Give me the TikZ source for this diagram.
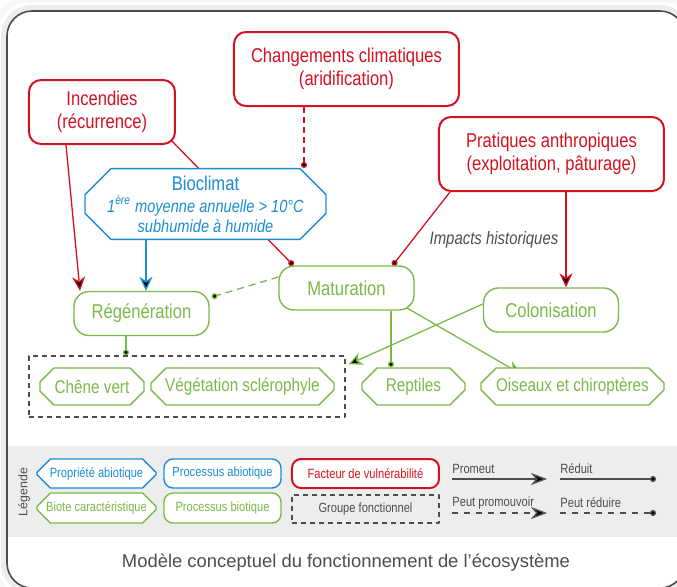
\documentclass[tikz,border=0pt]{standalone}
\usepackage{fontspec}
\setmainfont[FakeStretch=0.83]{Liberation Sans}
\newfontfamily\plainsans{Liberation Sans}
\usetikzlibrary{arrows.meta, shapes.misc, calc, backgrounds}
\definecolor{redv}{RGB}{213,18,34}
\definecolor{bluea}{RGB}{28,142,212}
\definecolor{greenb}{RGB}{122,186,72}
\definecolor{grayt}{RGB}{77,77,77}
\definecolor{bandgray}{RGB}{237,237,237}

\begin{document}
\begin{tikzpicture}[x=0.5pt,y=-0.5pt,line join=round,
	>={Stealth[length=7pt,width=6.5pt,inset=2.2pt]},
	endot/.tip={Circle[length=3pt]}]
		\tikzstyle{factor}=[draw=redv,line width=1pt,rounded corners=6,fill=white,text=redv,align=center,font=\fontsize{10}{11.5}\selectfont]
		\tikzstyle{property}=[chamfered rectangle,chamfered rectangle xsep=9.5pt,draw=bluea,line width=0.7pt,fill=white,text=bluea,align=center,inner sep=0pt]
		\tikzstyle{process}=[draw=greenb,line width=0.7pt,rounded corners=7.5,fill=white,text=greenb,font=\fontsize{10}{11.5}\selectfont,minimum width=67.5pt,minimum height=22pt]
		\tikzstyle{biota}=[chamfered rectangle,chamfered rectangle xsep=4pt,draw=greenb,line width=0.7pt,fill=white,text=greenb,font=\fontsize{9.2}{11}\selectfont,inner sep=0pt,minimum height=18.5pt]
		\tikzstyle{groupbox}=[draw=grayt,line width=0.6pt,dash pattern=on 2.5pt off 2pt]
		\tikzstyle{legfont}=[font=\fontsize{6.7}{8}\selectfont]
		\tikzstyle{leglab}=[legfont,text=grayt,inner sep=0pt,anchor=west]
		\tikzstyle{legline}=[draw=grayt,line width=0.7pt]
		\tikzstyle{link}=[line width=0.65pt]
		
		\useasboundingbox (0,0) rectangle (677,586);
		\begin{pgfonlayer}{background}
			\fill[white] (0,0) rectangle (677,586);
			\draw[black!3,line width=3pt,rounded corners=17] (-5,-1) rectangle (697,600);
			\draw[black!7,line width=3pt,rounded corners=14] (4,8) rectangle (688,591);
		\end{pgfonlayer}
		\fill[bandgray] (7,446) rectangle (685,537);
		\draw[grayt,line width=0.8pt,rounded corners=12.5] (7,11) rectangle (685,588);
		
		\node[factor,minimum width=112.5pt,minimum height=37pt] (chg) at (346.5,69) {Changements climatiques\\(aridification)};
		\node[factor,minimum width=73pt,minimum height=32pt] (inc) at (102,112) {Incendies\\(récurrence)};
		\node[factor,minimum width=112.5pt,minimum height=37pt] (pra) at (551.5,154) {Pratiques anthropiques\\(exploitation, pâturage)};
		\node[property,minimum width=120.5pt,minimum height=35pt,font=\fontsize{8.8}{10}\selectfont\itshape] (bio) at (205.5,204)
			{{\upshape\fontsize{10}{12}\selectfont Bioclimat}\\[1pt]1\textsuperscript{ère} moyenne annuelle > 10°C\\subhumide à humide};
		
		\node[process] (mat) at (346.5,288) {Maturation};
		\node[process] (reg) at (141.5,313.5) {Régénération};
		\node[process] (col) at (551,310) {Colonisation};
		\node[font=\fontsize{9}{10}\selectfont\itshape,text=grayt] (imp) at (494,240) {Impacts historiques};
		
		\node[groupbox,minimum width=158pt,minimum height=30.5pt] (grp) at (187,386.5) {};
		\node[biota,minimum width=52pt] (chene) at (92,386.5) {Chêne vert};
		\node[biota,minimum width=91.5pt] (veg) at (242.5,386.5) {Végétation sclérophyle};
		\node[biota,minimum width=51.5pt] (rep) at (413.5,386.5) {Reptiles};
		\node[biota,minimum width=91.5pt] (ois) at (572.5,386.5) {Oiseaux et chiroptères};
		
		\begin{pgfonlayer}{background}
			\path[draw=redv,link]
			($(chg.south)+(-42.5,0)$) edge[dash pattern=on 3pt off 2pt,-endot] ($(bio.north)+(98.5,0)$)
			($(inc.south east)+(-8,-8)$) edge[-endot] ($(mat.north west)+(15,0)$)
			($(inc.south)+(-36,0)$) edge[->] ($(reg.north)+(-61.5,0)$)
			($(pra.south west)+(12,0)$) edge[-endot] ($(mat.north east)+(-22,0)$)
			($(pra.south)+(14.5,0)$) edge[->] ($(col.north)+(15,0)$);
			
			\path[draw=bluea,link]
			($(bio.south)+(-59.5,0)$) edge[->] ($(reg.north)+(4.5,0)$);
			
			\path[draw=greenb,link]
			($(mat.west)+(0,-11)$) edge[dash pattern=on 3.5pt off 2.5pt,-endot] ($(reg.east)+(2,-16.5)$)
			($(reg.south)+(-15.5,0)$) edge[-endot] ($(grp.north)+(-61,0)$)
			($(mat.south)+(44.5,0)$) edge[-endot] ($(rep.north)+(-22.5,0)$)
			($(mat.south east)+(-10,-4)$) edge[->] ($(ois.north west)+(33,-1)$)
			($(col.west)+(0,-6)$) edge[->] ($(grp.north east)+(3,9)$);
		\end{pgfonlayer}
		
		\node[rotate=90,font=\plainsans\fontsize{6.2}{7}\selectfont,text=grayt] (leg) at (24,492) {Légende};
		\node[property,legfont,chamfered rectangle xsep=4pt,minimum width=59.5pt,minimum height=14.5pt] (lpa) at (96.5,473.5) {Propriété abiotique};
		\node[process,legfont,draw=bluea,text=bluea,rounded corners=4.5,minimum width=58.5pt,minimum height=14.5pt] (lpr) at (222.5,473.5) {Processus abiotique};
		\node[factor,legfont,rounded corners=4.5,minimum width=73.5pt,minimum height=14.5pt] (lfa) at (365.5,473.5) {Facteur de vulnérabilité};
		\node[biota,legfont,minimum width=59.5pt,minimum height=15pt] (lbi) at (96.5,508) {Biote caractéristique};
		\node[process,legfont,rounded corners=4.5,minimum width=58.5pt,minimum height=15pt] (lpb) at (222.5,508) {Processus biotique};
		\node[groupbox,legfont,text=grayt,minimum width=73.5pt,minimum height=14pt] (lgr) at (365.5,509) {Groupe fonctionnel};
		
		\node[leglab] (lprom) at (452,469) {Promeut};
		\node[leglab] (lred) at (560,469) {Réduit};
		\node[leglab] (lpprom) at (452,503) {Peut promouvoir};
		\node[leglab] (lpred) at (560,503) {Peut réduire};
		\coordinate (a1) at (452,479);
		\coordinate (a2) at (547,479);
		\coordinate (b1) at (560,479);
		\coordinate (b2) at (656,479);
		\coordinate (c1) at (452,513);
		\coordinate (c2) at (547,513);
		\coordinate (d1) at (560,513);
		\coordinate (d2) at (656,513);
		\path[legline]
		(a1) edge[-{Stealth[length=8pt,width=6pt,inset=2.5pt]}] (a2)
		(b1) edge[-endot] (b2)
		(c1) edge[dash pattern=on 3pt off 3pt,-{Stealth[length=8pt,width=6pt,inset=2.5pt]}] (c2)
		(d1) edge[dash pattern=on 3pt off 3pt,-endot] (d2);
		
		\node[font=\plainsans\fontsize{9.2}{11}\selectfont,text=grayt] (cap) at (346,563) {Modèle conceptuel du fonctionnement de l’écosystème};
\end{tikzpicture}
\end{document}
